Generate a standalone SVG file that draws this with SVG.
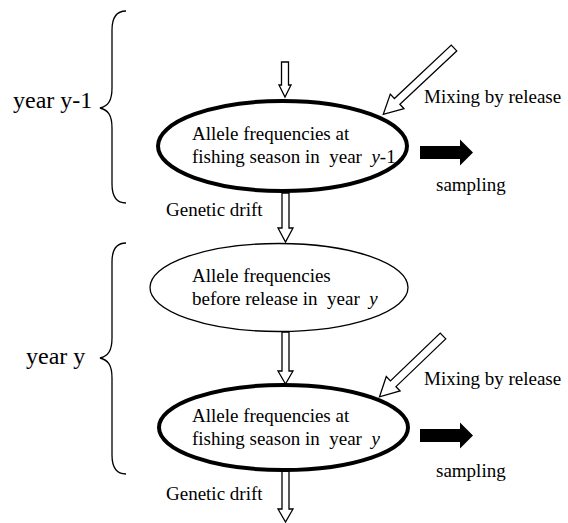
<svg xmlns="http://www.w3.org/2000/svg" width="568" height="523" viewBox="0 0 568 523">
<style>
text{font-family:"Liberation Serif","Times New Roman",serif;fill:#000;white-space:pre}
.t{font-size:19px}
.yr{font-size:24px}
.thick{fill:#fff;stroke:#000;stroke-width:4}
.thin{fill:#fff;stroke:#000;stroke-width:1.3}
.hollow{fill:#fff;stroke:#000;stroke-width:1.3;stroke-linejoin:miter}
.solid{fill:#000;stroke:none}
.brace{fill:none;stroke:#000;stroke-width:1.3}
</style>
<rect width="568" height="523" fill="#fff"/>
<g id="connectors">
<polygon class="hollow" points="281.5,62 288.5,62 288.5,85 291,85 285,97 279,85 281.5,85"/>
<polygon class="hollow" points="282,193 289,193 289,228 293,228 285.5,242 278,228 282,228"/>
<polygon class="hollow" points="282,332 289,332 289,371 293,371 285.5,384 278,371 282,371"/>
<polygon class="hollow" points="282,471 289,471 289,509 293,509 285.5,522 278,509 282,509"/>
<g transform="translate(454,48) rotate(136.8)">
<polygon class="hollow" points="0,-4 78,-4 78,-10 97,0 78,10 78,4 0,4"/>
</g>
<g transform="translate(443,336) rotate(136.2)">
<polygon class="hollow" points="0,-4 69,-4 69,-10 88,0 69,10 69,4 0,4"/>
</g>
<polygon class="solid" points="420,146 460,146 460,139.5 473,152.5 460,165.5 460,159 420,159"/>
<polygon class="solid" points="420,429 460,429 460,422.5 473,435.5 460,448.5 460,442 420,442"/>
</g>
<g id="brace1">
<path class="brace" d="M126,11 C117,11 112,17 112,30 L112,88 C112,101 108,106 100,108 C108,110 112,115 112,128 L112,184 C112,197 117,203 126,203"/>
<text class="yr" x="13" y="108">year y-1</text>
</g>
<g id="brace2">
<path class="brace" d="M126,243 C117,243 112,249 112,262 L112,338 C112,351 108,356 100,358 C108,360 112,365 112,378 L112,455 C112,468 117,474 126,474"/>
<text class="yr" x="26" y="364">year y</text>
</g>
<g id="node1">
<ellipse class="thick" cx="282.5" cy="146" rx="124.5" ry="45"/>
<text class="t" x="192" y="140">Allele frequencies at</text>
<text class="t" x="192" y="163">fishing season in  year  <tspan font-style="italic">y</tspan>-1</text>
</g>
<g id="node2">
<ellipse class="thin" cx="279" cy="287.5" rx="129" ry="44"/>
<text class="t" x="192" y="282">Allele frequencies</text>
<text class="t" x="192" y="305">before release in  year  <tspan font-style="italic">y</tspan></text>
</g>
<g id="node3">
<ellipse class="thick" cx="283.5" cy="427.5" rx="124.5" ry="42.5"/>
<text class="t" x="192" y="422">Allele frequencies at</text>
<text class="t" x="192" y="445">fishing season in  year  <tspan font-style="italic">y</tspan></text>
</g>
<g id="labels">
<text class="t" x="424" y="103">Mixing by release</text>
<text class="t" x="436" y="191">sampling</text>
<text class="t" x="166" y="216">Genetic drift</text>
<text class="t" x="424" y="385">Mixing by release</text>
<text class="t" x="436" y="477">sampling</text>
<text class="t" x="166" y="500">Genetic drift</text>
</g>
</svg>
